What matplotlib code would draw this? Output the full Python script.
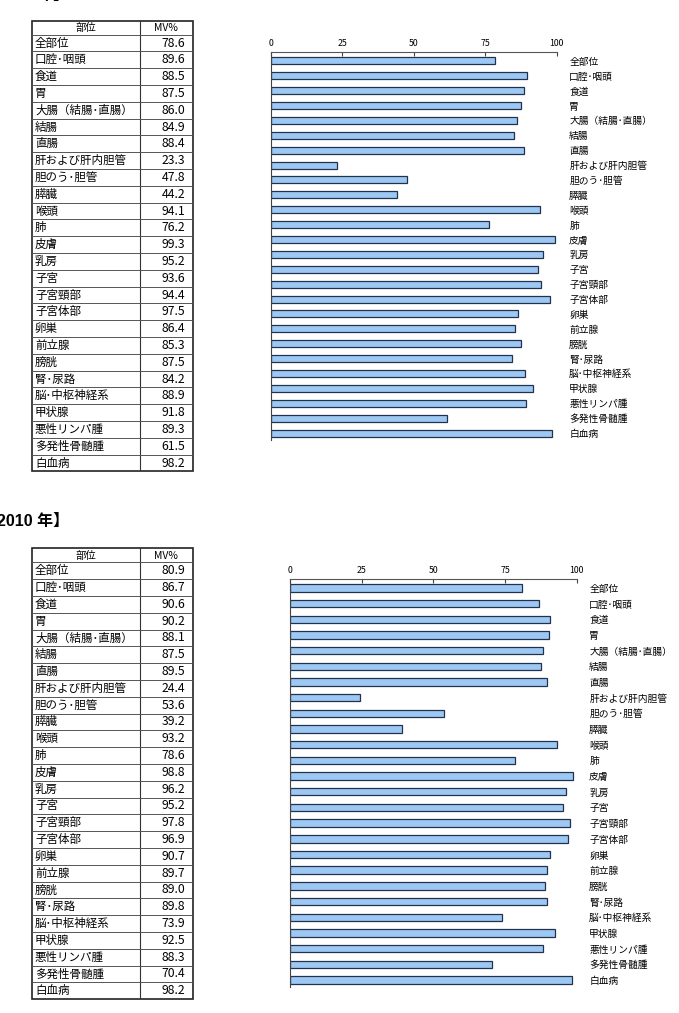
import matplotlib
matplotlib.use('Agg')
from matplotlib import pyplot as plt
import numpy as np

plt.rcParams['font.family'] = ['Noto Sans CJK JP', 'DejaVu Sans']

# %% Data

sites = ['全部位', '口腔･咽頭', '食道', '胃', '大腸（結腸･直腸）', '結腸', '直腸',
         '肝および肝内胆管', '胆のう･胆管', '膵臓', '喉頭', '肺', '皮膚', '乳房',
         '子宮', '子宮頸部', '子宮体部', '卵巣', '前立腺', '膀胱', '腎･尿路',
         '脳･中枢神経系', '甲状腺', '悪性リンパ腫', '多発性骨髄腫', '白血病']
mv_before = [78.6, 89.6, 88.5, 87.5, 86.0, 84.9, 88.4, 23.3, 47.8, 44.2, 94.1,
             76.2, 99.3, 95.2, 93.6, 94.4, 97.5, 86.4, 85.3, 87.5, 84.2, 88.9,
             91.8, 89.3, 61.5, 98.2]
mv_2010 = [80.9, 86.7, 90.6, 90.2, 88.1, 87.5, 89.5, 24.4, 53.6, 39.2, 93.2,
           78.6, 98.8, 96.2, 95.2, 97.8, 96.9, 90.7, 89.7, 89.0, 89.8, 73.9,
           92.5, 88.3, 70.4, 98.2]
xticks = [0, 25, 50, 75, 100]

W, H = 679, 1013
fig = plt.figure(figsize=(W/100, H/100), dpi=100)
head_font = ['Liberation Sans', 'Noto Sans CJK JP']


def box(x0, y0, x1, y1):
    # pixel box -> figure fraction
    return [x0/W, 1-y1/H, (x1-x0)/W, (y1-y0)/H]


def table(top, names, values):
    head = 14.0
    row = 16.8
    n = len(names)
    bottom = top + head + n*row
    ax = fig.add_axes(box(32, top, 193, bottom))
    ax.set_xlim(0, 161)
    ax.set_ylim(bottom-top, 0)
    ax.axis('off')
    split = 107.5
    ax.plot([split, split], [0, bottom-top], color='#333333', lw=0.8)
    for i in range(n+1):
        y = head + i*row
        ax.plot([0, 161], [y, y], color='#555555', lw=0.7)
    ax.add_patch(plt.Rectangle((0, 0), 161, bottom-top, fill=False,
                               ec='#222222', lw=1.2, clip_on=False))
    ax.text(split/2, head/2+0.5, '部位', ha='center', va='center', fontsize=7.5)
    ax.text((split+161)/2, head/2+0.5, 'MV%', ha='center', va='center', fontsize=7.5)
    for i, (name, v) in enumerate(zip(names, values)):
        y = head + (i+0.5)*row
        ax.text(3, y, name, ha='left', va='center', fontsize=8.3)
        ax.text(153, y, f'{v:.1f}', ha='right', va='center', fontsize=8.8)


def chart(x0, x1, y0, y1, names, values, top_pad, bot_pad):
    ax = fig.add_axes(box(x0, y0, x1, y1))
    pos = np.arange(len(names))
    ax.barh(pos, values, height=0.47, color='#9dc8f3', edgecolor='#23324c', lw=0.9)
    ax.set_xlim(0, 100)
    ax.set_ylim(len(names)-1+bot_pad, -top_pad)
    ax.xaxis.tick_top()
    ax.set_xticks(xticks)
    ax.tick_params(axis='x', direction='in', length=3, pad=3, labelsize=6.3,
                   color='#444444')
    ax.yaxis.tick_right()
    ax.set_yticks(pos)
    ax.set_yticklabels(names)
    ax.tick_params(axis='y', length=0, pad=9, labelsize=7)
    ax.spines['right'].set_visible(False)
    ax.spines['bottom'].set_visible(False)
    ax.spines['top'].set_color('#555555')
    ax.spines['left'].set_color('#444444')


# %% Top section
fig.text(69/W, 1-(-5)/H, '年】', ha='right', va='center', fontsize=11.5,
         fontweight='bold', family=head_font)
table(20.7, sites, mv_before)
chart(270.7, 556.7, 52, 440, sites, mv_before, 0.6, 0.47)

# %% 2010 section
fig.text(69/W, 1-521/H, '【2010 年】', ha='right', va='center', fontsize=11.5,
         fontweight='bold', family=head_font)
table(548.3, sites, mv_2010)
chart(290, 576.7, 579, 987, sites, mv_2010, 0.57, 0.45)

fig.savefig('out.png', dpi=100)
